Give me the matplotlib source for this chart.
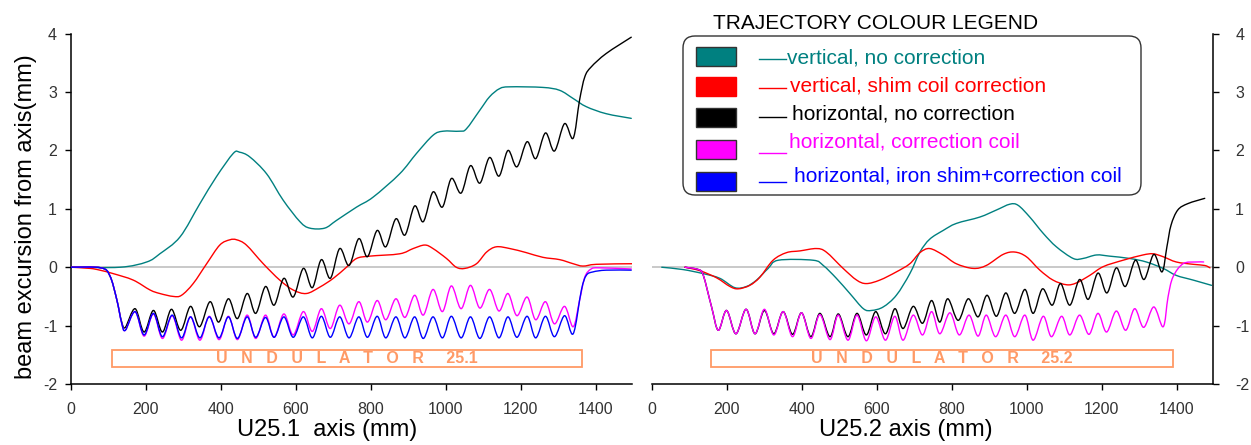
import numpy as np
import matplotlib.pyplot as plt
from matplotlib.path import Path
from matplotlib.patches import PathPatch, Rectangle, FancyBboxPatch
from matplotlib.lines import Line2D

plt.rcParams['font.family'] = ['Liberation Sans', 'DejaVu Sans']
plt.rcParams['axes.unicode_minus'] = False

# ---- datos (mm, mm) ----
# U25.1
u1_vert_x = [0, 131, 202, 237, 291, 344, 388, 433, 450, 477, 522, 566, 611, 637, 677, 708, 762, 806,
             877, 922, 966, 993, 1037, 1055, 1091, 1117, 1144, 1171, 1259, 1304, 1340, 1375, 1428, 1495]
u1_vert_y = [0, 0, 0.09, 0.23, 0.52, 1.09, 1.55, 1.95, 1.97, 1.89, 1.6, 1.15, 0.78, 0.67, 0.67, 0.8, 1.03, 1.2,
             1.6, 1.95, 2.26, 2.33, 2.33, 2.37, 2.69, 2.92, 3.06, 3.09, 3.08, 3.03, 2.89, 2.75, 2.63, 2.55]

u1_shim_x = [0, 51, 77, 113, 166, 211, 237, 273, 295, 326, 362, 397, 424, 442, 468, 513, 557, 593, 628, 664,
             700, 735, 762, 797, 877, 913, 944, 966, 1002, 1028, 1051, 1082, 1109, 1135, 1171, 1215, 1259,
             1304, 1340, 1366, 1402, 1497]
u1_shim_y = [0, -0.02, -0.05, -0.11, -0.22, -0.39, -0.45, -0.5, -0.48, -0.28, 0.06, 0.38, 0.47, 0.47, 0.38,
             0.06, -0.22, -0.39, -0.45, -0.34, -0.19, 0.0, 0.15, 0.19, 0.23, 0.32, 0.38, 0.32, 0.15, 0.0, -0.02,
             0.06, 0.26, 0.35, 0.32, 0.25, 0.17, 0.13, 0.06, 0.02, 0.05, 0.06]

u1_hor_x = [0, 80, 104, 122, 135, 145, 171, 195, 220, 244, 268, 293, 319, 343, 371, 394, 420, 444, 470, 493,
            519, 542, 568, 593, 620, 644, 668, 692, 717, 742, 768, 791, 817, 840, 867, 891, 917, 940, 966, 991,
            1015, 1041, 1066, 1091, 1117, 1142, 1166, 1190, 1217, 1240, 1266, 1290, 1317, 1340, 1357, 1371,
            1388, 1428, 1495]
u1_hor_y = [0, -0.01, -0.15, -0.55, -0.93, -1.03, -0.71, -1.11, -0.74, -1.11, -0.72, -1.08, -0.67, -1.02,
            -0.59, -0.94, -0.54, -0.88, -0.45, -0.79, -0.33, -0.65, -0.19, -0.51, -0.02, -0.35, 0.13, -0.19,
            0.32, 0.03, 0.49, 0.18, 0.63, 0.35, 0.83, 0.55, 1.05, 0.78, 1.29, 1.03, 1.52, 1.27, 1.74, 1.44,
            1.88, 1.56, 2.0, 1.72, 2.15, 1.86, 2.3, 1.99, 2.46, 2.21, 2.86, 3.26, 3.43, 3.66, 3.94]

u1_coil_x = [0, 80, 104, 122, 135, 145, 171, 195, 220, 244, 270, 295, 319, 344, 369, 395, 420, 444, 470, 493,
             519, 542, 568, 593, 620, 644, 668, 692, 717, 742, 768, 791, 817, 840, 867, 891, 917, 940, 966, 991,
             1015, 1041, 1066, 1091, 1117, 1142, 1166, 1190, 1217, 1240, 1266, 1290, 1317, 1340, 1357, 1371,
             1388, 1410, 1495]
u1_coil_y = [0, -0.01, -0.15, -0.55, -0.95, -1.08, -0.76, -1.18, -0.8, -1.22, -0.83, -1.25, -0.85, -1.25,
             -0.84, -1.24, -0.84, -1.24, -0.82, -1.22, -0.82, -1.2, -0.8, -1.16, -0.76, -1.1, -0.71, -1.05,
             -0.65, -0.97, -0.59, -0.94, -0.57, -0.9, -0.54, -0.86, -0.48, -0.82, -0.38, -0.76, -0.32, -0.71,
             -0.31, -0.7, -0.38, -0.75, -0.45, -0.83, -0.51, -0.9, -0.59, -0.97, -0.67, -1.02, -0.57, -0.17,
             -0.03, -0.01, -0.03]

u1_iron_x = [0, 80, 104, 122, 135, 145, 171, 195, 220, 244, 270, 295, 319, 344, 369, 395, 420, 444, 470, 493,
             519, 542, 568, 593, 620, 644, 668, 692, 717, 742, 768, 791, 817, 840, 867, 891, 917, 940, 966, 991,
             1015, 1041, 1066, 1091, 1117, 1142, 1166, 1190, 1217, 1240, 1266, 1290, 1317, 1340, 1362, 1375,
             1393, 1428, 1495]
u1_iron_y = [0, -0.01, -0.15, -0.55, -0.95, -1.08, -0.76, -1.16, -0.79, -1.19, -0.82, -1.21, -0.85, -1.21,
             -0.85, -1.21, -0.85, -1.22, -0.85, -1.2, -0.86, -1.2, -0.85, -1.2, -0.85, -1.21, -0.84, -1.2,
             -0.85, -1.21, -0.85, -1.2, -0.84, -1.21, -0.85, -1.21, -0.85, -1.22, -0.85, -1.21, -0.84, -1.21,
             -0.85, -1.22, -0.85, -1.21, -0.85, -1.2, -0.84, -1.21, -0.84, -1.19, -0.83, -1.14, -0.39, -0.14,
             -0.08, -0.05, -0.05]

# U25.2
u2_vert_x = [26, 83, 137, 181, 221, 252, 279, 310, 337, 430, 457, 492, 528, 564, 586, 617, 652, 688, 715, 741,
             777, 812, 875, 919, 955, 977, 1008, 1044, 1079, 1124, 1150, 1186, 1221, 1275, 1319, 1364, 1399,
             1444, 1493]
u2_vert_y = [0, -0.04, -0.11, -0.19, -0.35, -0.33, -0.22, -0.02, 0.12, 0.12, 0.03, -0.19, -0.45, -0.71, -0.74,
             -0.68, -0.48, -0.11, 0.26, 0.48, 0.63, 0.75, 0.86, 0.98, 1.08, 1.06, 0.86, 0.58, 0.35, 0.15, 0.15,
             0.21, 0.19, 0.15, 0.09, -0.02, -0.14, -0.22, -0.31]

u2_shim_x = [88, 128, 172, 208, 230, 261, 288, 323, 359, 395, 439, 465, 510, 546, 572, 608, 652, 688, 715, 741,
             777, 812, 857, 892, 937, 968, 999, 1035, 1070, 1106, 1132, 1168, 1204, 1257, 1310, 1337, 1364,
             1399, 1444, 1475, 1489]
u2_shim_y = [0, -0.06, -0.18, -0.33, -0.37, -0.31, -0.17, 0.12, 0.25, 0.28, 0.32, 0.26, -0.02, -0.22, -0.28,
             -0.22, -0.08, 0.06, 0.25, 0.32, 0.21, 0.06, -0.02, 0.03, 0.22, 0.26, 0.18, -0.05, -0.22, -0.30,
             -0.27, -0.14, 0.01, 0.12, 0.21, 0.23, 0.18, 0.09, 0.05, 0.03, -0.01]

u2_hor_x = [88, 124, 137, 159, 177, 199, 224, 251, 275, 300, 325, 350, 375, 399, 424, 448, 475, 497, 523, 547,
            572, 597, 623, 648, 670, 697, 722, 746, 768, 789, 817, 844, 870, 894, 919, 944, 968, 995, 1017, 1042,
            1068, 1090, 1115, 1141, 1164, 1190, 1214, 1239, 1263, 1290, 1313, 1339, 1361, 1374, 1385, 1403,
            1430, 1475]
u2_hor_y = [0, -0.04, -0.14, -0.68, -1.08, -0.74, -1.14, -0.72, -1.14, -0.74, -1.14, -0.76, -1.15, -0.78,
            -1.19, -0.79, -1.19, -0.8, -1.19, -0.79, -1.16, -0.76, -1.14, -0.71, -1.05, -0.67, -0.96, -0.57,
            -0.94, -0.54, -0.91, -0.54, -0.85, -0.48, -0.84, -0.44, -0.79, -0.38, -0.79, -0.37, -0.65, -0.28,
            -0.65, -0.21, -0.55, -0.10, -0.44, -0.01, -0.33, 0.12, -0.21, 0.22, -0.08, 0.35, 0.72, 0.98, 1.09,
            1.18]

u2_coil_x = [88, 124, 137, 159, 177, 199, 224, 251, 275, 300, 325, 350, 375, 399, 424, 448, 475, 497, 523, 547,
             572, 597, 623, 648, 670, 697, 722, 746, 768, 795, 820, 846, 870, 892, 917, 944, 968, 995, 1017,
             1044, 1066, 1093, 1115, 1141, 1166, 1190, 1213, 1239, 1264, 1288, 1312, 1339, 1364, 1377, 1390,
             1417, 1452, 1472]
u2_coil_y = [0, -0.04, -0.14, -0.68, -1.08, -0.74, -1.14, -0.72, -1.14, -0.72, -1.16, -0.76, -1.19, -0.78,
             -1.22, -0.81, -1.24, -0.82, -1.25, -0.82, -1.26, -0.85, -1.25, -0.84, -1.25, -0.82, -1.16, -0.76,
             -1.14, -0.78, -1.16, -0.82, -1.18, -0.82, -1.19, -0.82, -1.19, -0.82, -1.25, -0.84, -1.19, -0.84,
             -1.16, -0.82, -1.15, -0.79, -1.11, -0.75, -1.08, -0.71, -1.03, -0.68, -1.02, -0.51, -0.17, 0.06,
             0.09, 0.09]

# tramos de los onduladores (mm) y su banda vertical
und1_span = (109, 1363)
und2_span = (157, 1389)
und_band = (-1.71, -1.42)

xticks = [0, 200, 400, 600, 800, 1000, 1200, 1400]
yticks = [-2, -1, 0, 1, 2, 3, 4]

TEAL = '#008080'
RED = '#ff0000'
BLACK = '#000000'
MAGENTA = '#ff00ff'
BLUE = '#0000ff'
ORANGE = '#ff9a66'

legend_labels = ['vertical, no correction', 'vertical, shim coil correction', 'horizontal, no correction',
                 'horizontal, correction coil', 'horizontal, iron shim+correction coil']
legend_colors = [TEAL, RED, BLACK, MAGENTA, BLUE]


def smooth_path(x, y):
    """Curva suave (Catmull-Rom -> Bezier) por los puntos leidos"""
    p = np.column_stack([x, y]).astype(float)
    verts = [p[0]]
    codes = [Path.MOVETO]
    n = len(p)
    for i in range(n - 1):
        p0 = p[i - 1] if i > 0 else p[i]
        p1 = p[i]
        p2 = p[i + 1]
        p3 = p[i + 2] if i + 2 < n else p[i + 1]
        verts += [p1 + (p2 - p0) / 6, p2 - (p3 - p1) / 6, p2]
        codes += [Path.CURVE4] * 3
    return Path(verts, codes)


def curve(ax, x, y, color, z=3):
    ax.add_patch(PathPatch(smooth_path(x, y), fill=False, edgecolor=color, lw=1.0, zorder=z,
                           joinstyle='round', capstyle='round'))


def setup(ax, side):
    ax.set_xlim(0, 1497)
    ax.set_ylim(-2, 4)
    ax.set_xticks(xticks)
    ax.set_yticks(yticks)
    ax.patch.set_visible(False)
    for s in ax.spines.values():
        s.set_visible(False)
    for s in ['bottom', side]:
        ax.spines[s].set_visible(True)
        ax.spines[s].set_linewidth(1.1)
    ax.tick_params(axis='both', direction='out', length=4, width=1, labelsize=11.5, labelcolor='#333333')
    ax.tick_params(axis='x', pad=9)
    if side == 'right':
        ax.yaxis.tick_right()
        ax.tick_params(axis='y', pad=12)
    else:
        ax.tick_params(axis='y', pad=6)
    ax.axhline(0, color='#c0c0c0', lw=1.2, zorder=1)


def undulator(ax, span, text):
    ax.add_patch(Rectangle((span[0], und_band[0]), span[1] - span[0], und_band[1] - und_band[0],
                           fill=False, edgecolor=ORANGE, lw=1.3, zorder=2))
    ax.text((span[0] + span[1]) / 2, (und_band[0] + und_band[1]) / 2, text, color=ORANGE,
            fontsize=11.5, fontweight='bold', ha='center', va='center')


W, H = 1251, 445
fig = plt.figure(figsize=(W / 100, H / 100), dpi=100)
ax1 = fig.add_axes([71 / W, 1 - 384 / H, 561 / W, 350.3 / H])
ax2 = fig.add_axes([652 / W, 1 - 384 / H, 561 / W, 350.3 / H])

setup(ax1, 'left')
setup(ax2, 'right')

curve(ax1, u1_vert_x, u1_vert_y, TEAL)
curve(ax1, u1_shim_x, u1_shim_y, RED)
curve(ax1, u1_hor_x, u1_hor_y, BLACK)
curve(ax1, u1_coil_x, u1_coil_y, MAGENTA)
curve(ax1, u1_iron_x, u1_iron_y, BLUE)

curve(ax2, u2_vert_x, u2_vert_y, TEAL)
curve(ax2, u2_shim_x, u2_shim_y, RED)
curve(ax2, u2_hor_x, u2_hor_y, BLACK)
curve(ax2, u2_coil_x, u2_coil_y, MAGENTA)

undulator(ax1, und1_span, 'U   N   D   U   L   A   T   O   R     25.1')
undulator(ax2, und2_span, 'U   N   D   U   L   A   T   O   R     25.2')

ax1.set_ylabel('beam excursion from axis(mm)', fontsize=17)
ax1.yaxis.set_label_coords(-0.061, 0.477)
ax1.set_xlabel('U25.1  axis (mm)', fontsize=17)
ax1.xaxis.set_label_coords(0.456, -0.10)
ax2.set_xlabel('U25.2 axis (mm)', fontsize=17)
ax2.xaxis.set_label_coords(0.453, -0.10)

# ---- leyenda dibujada a mano (coordenadas en pixeles de la imagen) ----
tr = fig.dpi_scale_trans


def px(x, y):
    return x / 100, (H - y) / 100


fig.text(*px(876, 29), 'TRAJECTORY COLOUR LEGEND', transform=tr, fontsize=15, ha='center', va='baseline')
x0, y0 = px(683, 195)
fig.add_artist(FancyBboxPatch((x0, y0), 4.58, 1.59, boxstyle='round,pad=0,rounding_size=0.12',
                              transform=tr, facecolor='white', edgecolor='#333333', lw=1.0, zorder=5))

sq_y = [47, 77, 108, 140, 172]
line_y = [59, 88, 117, 153, 182]
text_y = [63, 91, 120, 148, 182]
text_x = [787, 790, 792, 789, 794]
for i, (lab, col) in enumerate(zip(legend_labels, legend_colors)):
    sx, sy = px(696, sq_y[i] + 19)
    edge = col if col == RED else '#333333'
    fig.add_artist(Rectangle((sx, sy), 0.40, 0.19, transform=tr, facecolor=col, edgecolor=edge,
                             lw=1.0, zorder=6))
    la, ly = px(759, line_y[i])
    lb, _ = px(786, line_y[i])
    fig.add_artist(Line2D([la, lb], [ly, ly], transform=tr, color=col, lw=1.0, zorder=6))
    fig.text(*px(text_x[i], text_y[i]), lab, transform=tr, color=col, fontsize=15, ha='left',
             va='baseline', zorder=6)

fig.savefig('out.png', dpi=100)
